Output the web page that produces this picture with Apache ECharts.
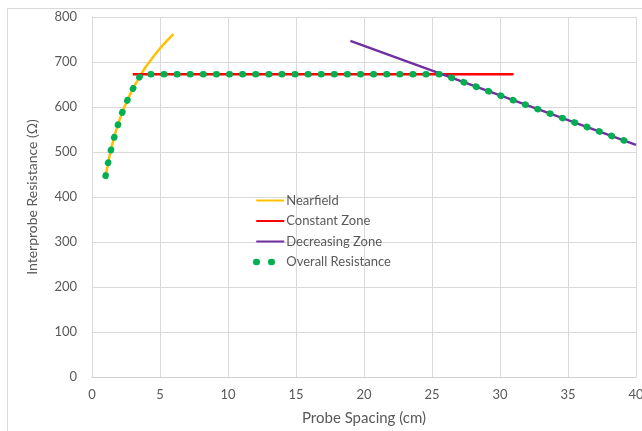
<!DOCTYPE html>
<html>
<head>
<meta charset="utf-8">
<script src="https://cdn.jsdelivr.net/npm/echarts@6/dist/echarts.min.js"></script>
<style>
  html, body { margin: 0; padding: 0; background: #fff; }
  #main { width: 642px; height: 431px; }
</style>
</head>
<body>
<div id="main"></div>
<script>
// data
var nearX = [1, 1.5, 2, 2.5, 3, 3.5, 4, 4.5, 5, 5.5, 6];
var nearY = [447, 518, 569, 608, 640, 667, 691, 711, 730, 747, 762];

var constX = [3, 31];
var constY = [673, 673];

var decX = [19, 40];
var decY = [747, 516];

var overallX = [1, 1.25, 1.5, 1.75, 2, 2.25, 2.5, 2.75, 3, 3.25, 3.5, 3.62, 25.7, 40];
var overallY = [447, 486, 518, 545, 569, 590, 608, 625, 640, 654, 667, 673, 673, 516];

var xTicks = [0, 5, 10, 15, 20, 25, 30, 35, 40];
var yTicks = [0, 100, 200, 300, 400, 500, 600, 700, 800];

function pairs(xs, ys) {
    return xs.map(function (x, i) { return [x, ys[i]] })
}

var font = 'Lato, "Open Sans", sans-serif'
var txt = '#595959'
var grid = '#D9D9D9'

var myChart = echarts.init(document.getElementById('main'))

var option = {
    animation: false,
    backgroundColor: '#fff',
    textStyle: { fontFamily: font },
    graphic: [{
        type: 'rect',
        shape: { x: 7.5, y: 8.5, width: 700, height: 500 },
        style: { fill: 'none', stroke: '#D9D9D9', lineWidth: 1 },
        silent: true
    }],
    grid: { left: 92, top: 17, right: 6, bottom: 54, outerBoundsMode: 'none', containLabel: false },
    legend: {
        orient: 'vertical',
        left: 253,
        top: 194,
        padding: 0,
        itemWidth: 28,
        itemHeight: 14,
        itemGap: 7.5,
        itemStyle: { opacity: 0 },
        textStyle: { color: txt, fontSize: 13, fontFamily: font, padding: [0, 0, 0, -3] },
        data: [
            { name: 'Nearfield' },
            { name: 'Constant Zone' },
            { name: 'Decreasing Zone' },
            { name: 'Overall Resistance', lineStyle: { type: [0.5, 14.5], cap: 'round', width: 6.5 } }
        ]
    },
    xAxis: {
        type: 'value',
        min: xTicks[0],
        max: xTicks[xTicks.length - 1],
        interval: 5,
        name: 'Probe Spacing (cm)',
        nameLocation: 'middle',
        nameGap: 34,
        nameTextStyle: { color: txt, fontSize: 15, fontFamily: font },
        axisLine: { show: true, lineStyle: { color: '#D0D0D0' } },
        axisTick: { show: false },
        axisLabel: { color: txt, fontSize: 13, margin: 11, fontFamily: font },
        splitLine: { show: true, lineStyle: { color: grid } }
    },
    yAxis: {
        type: 'value',
        min: yTicks[0],
        max: yTicks[yTicks.length - 1],
        interval: 100,
        name: 'Interprobe Resistance (Ω)',
        nameLocation: 'middle',
        nameRotate: 90,
        nameGap: 53,
        nameTextStyle: { color: txt, fontSize: 14, fontFamily: font },
        axisLine: { show: true, lineStyle: { color: grid } },
        axisTick: { show: false },
        axisLabel: { color: txt, fontSize: 13, margin: 15, fontFamily: font },
        splitLine: { show: true, lineStyle: { color: grid } }
    },
    series: [
        {
            name: 'Nearfield',
            type: 'line',
            data: pairs(nearX, nearY),
            smooth: true,
            symbol: 'none',
            color: '#FFC000',
            lineStyle: { color: '#FFC000', width: 2.5 }
        },
        {
            name: 'Constant Zone',
            type: 'line',
            data: pairs(constX, constY),
            symbol: 'none',
            color: '#FF0000',
            lineStyle: { color: '#FF0000', width: 2.5 }
        },
        {
            name: 'Decreasing Zone',
            type: 'line',
            data: pairs(decX, decY),
            symbol: 'none',
            color: '#7030A0',
            lineStyle: { color: '#7030A0', width: 2.5 }
        },
        {
            name: 'Overall Resistance',
            type: 'line',
            data: pairs(overallX, overallY),
            symbol: 'none',
            color: '#00B050',
            lineStyle: { color: '#00B050', width: 6.5, type: [0.5, 12.6], cap: 'round' }
        }
    ]
}

myChart.setOption(option)
</script>
</body>
</html>
